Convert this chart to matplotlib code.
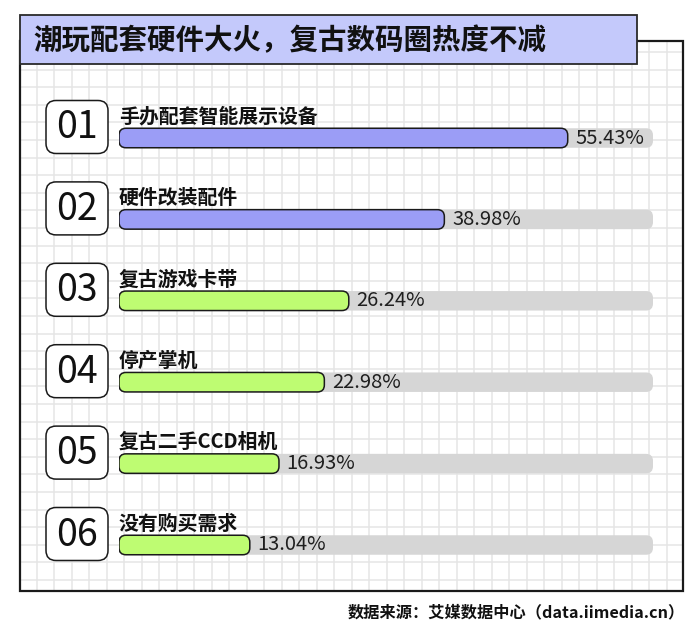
import numpy as np
import matplotlib
matplotlib.use("Agg")
import matplotlib.pyplot as plt
from matplotlib.patches import Rectangle, FancyBboxPatch

plt.rcParams['font.family'] = ['Noto Sans CJK SC', 'DejaVu Sans']

# data
title = "潮玩配套硬件大火，复古数码圈热度不减"
source = "数据来源：艾媒数据中心（data.iimedia.cn）"
ranks = ["01", "02", "03", "04", "05", "06"]
labels = ["手办配套智能展示设备", "硬件改装配件", "复古游戏卡带", "停产掌机",
          "复古二手CCD相机", "没有购买需求"]
values = [55.43, 38.98, 26.24, 22.98, 16.93, 13.04]
highlight = 2  # first two bars in purple

# scale of the bar axis (values)
BASE = -4.4
TRACK_MAX = 66.8

W, H = 700, 634
fig = plt.figure(figsize=(W / 100, H / 100), dpi=100)
fig.patch.set_facecolor("white")

# background layer in pixel coords
bg = fig.add_axes([0, 0, 1, 1])
bg.set_xlim(0, W)
bg.set_ylim(H, 0)
bg.axis("off")

fx0, fx1, fy0, fy1 = 20, 683, 41, 591
for x in np.arange(36.5, fx1, 17.5):
    bg.plot([x, x], [fy0, fy1], color="#e5e5e5", lw=1.1, zorder=1)
for y in np.arange(52, fy1, 17.6):
    bg.plot([fx0, fx1], [y, y], color="#e5e5e5", lw=1.1, zorder=1)
bg.add_patch(Rectangle((fx0, fy0), fx1 - fx0, fy1 - fy0, fill=False,
                       ec="#1a1a1a", lw=1.6, zorder=3))

# title box
bg.add_patch(Rectangle((20, 15), 617, 49, fc="#c4c9fb", ec="#2a2a2a",
                       lw=1.3, zorder=4))
bg.text(33, 41, title, fontsize=20.5, fontweight="bold", color="#111111",
        va="center", ha="left", zorder=5)

bg.text(685, 612, source, fontsize=11.7, fontweight="bold", color="#111111",
        va="center", ha="right")

# bar axes
row0, step = 138, 81.4
n = len(values)
ax_top = row0 - step / 2
ax_h = step * n
ax_left, ax_w = 119, 534
ax = fig.add_axes([ax_left / W, 1 - (ax_top + ax_h) / H, ax_w / W, ax_h / H])
ax.set_xlim(BASE, TRACK_MAX)
ax.set_ylim(n - 0.5, -0.5)
ax.axis("off")
ax.patch.set_alpha(0)

bar_h = 19.5 / step
ypos = np.arange(n)
xu_per_px = (TRACK_MAX - BASE) / ax_w
yu_per_px = n / ax_h
aspect = yu_per_px / xu_per_px
rad = 7 * xu_per_px

colors = ["#9b9df6" if i < highlight else "#befc72" for i in range(n)]

track = ax.barh(ypos, TRACK_MAX - BASE, left=BASE, height=bar_h)
bars = ax.barh(ypos, np.array(values) - BASE, left=BASE, height=bar_h)


def round_bars(container, fcs, ec, lw, z):
    for p, fc in zip(container.patches, fcs):
        x, y = p.get_x(), p.get_y()
        w, h = p.get_width(), p.get_height()
        p.remove()
        ax.add_patch(FancyBboxPatch((x, y), w, h,
                                    boxstyle="round,pad=0,rounding_size=%f" % rad,
                                    mutation_aspect=aspect, fc=fc, ec=ec,
                                    lw=lw, zorder=z))


round_bars(track, ["#d6d6d6"] * n, "none", 0, 2)
round_bars(bars, colors, "#1a1a1a", 1.1, 3)

for i, v in enumerate(values):
    ax.annotate("%.2f%%" % v, (v, i), xytext=(5.5, 0), textcoords="offset points",
                va="center", ha="left", fontsize=14.5, color="#1f1f1f", zorder=4)
    ax.text(BASE, i - 0.27, labels[i], fontsize=14.3, fontweight="bold",
            color="#111111", va="center", ha="left")

# rank boxes
for i, r in enumerate(ranks):
    cy = row0 + i * step - 11
    bg.add_patch(FancyBboxPatch((46, cy - 26.5), 62, 53,
                                boxstyle="round,pad=0,rounding_size=10",
                                fc="white", ec="#1a1a1a", lw=1.1, zorder=4))
    bg.text(77, cy + 1, r, fontsize=27, color="#111111", ha="center",
            va="center", zorder=5)

fig.savefig("out.png", dpi=100, facecolor="white")
